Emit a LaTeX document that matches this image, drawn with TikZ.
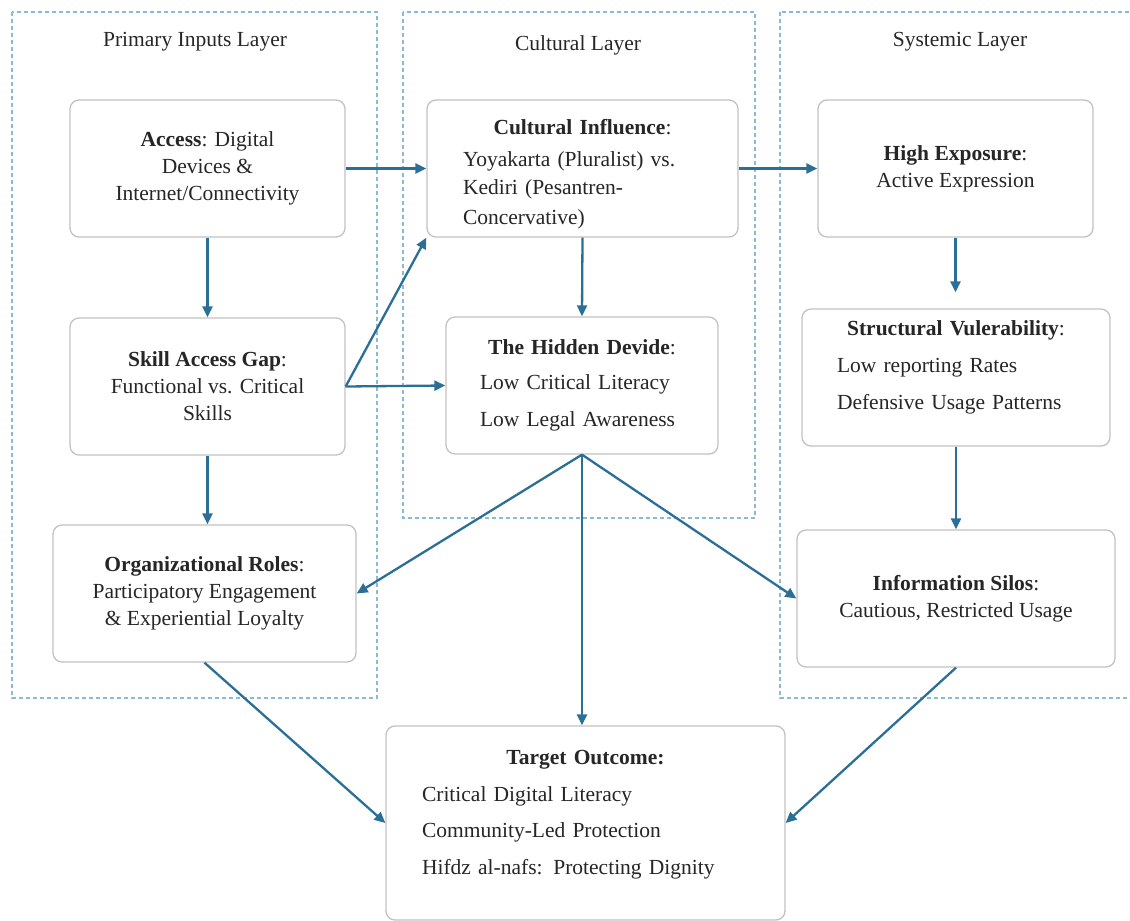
\documentclass[tikz,border=0pt]{standalone}
\usepackage{fontspec}
\setmainfont{Liberation Serif}
\usetikzlibrary{arrows.meta}

\definecolor{flowblue}{HTML}{2B6F96}
\definecolor{framebl}{HTML}{8BBAD6}
\definecolor{boxgray}{HTML}{C2C2C2}

\begin{document}
\begin{tikzpicture}[x=1pt, y=-1pt,
  box/.style={draw=boxgray, line width=1.3pt, rounded corners=9pt, fill=white,
    text=black!85, font=\fontsize{21.5}{27}\selectfont, inner sep=0pt,
    minimum height=137pt, align=center},
  listbox/.style={box, align=left, inner xsep=#1},
  flow/.style={draw=flowblue, line width=2.3pt, -{Triangle[length=11pt, width=10pt]}},
  layer/.style={draw=framebl, line width=1.3pt, dash pattern=on 4pt off 3pt},
  layertitle/.style={font=\fontsize{21.5}{24}\selectfont, text=black!85}]

  \useasboundingbox (0,0) rectangle (1130,921);

  % Layer frames
  \draw[layer] ( 12,12) rectangle ( 377,698);
  \draw[layer] (403,12) rectangle ( 755,518);
  \draw[layer] (780,12) rectangle (1140,698);

  \node[layertitle] (ttlprim) at (195,42) {Primary Inputs Layer};
  \node[layertitle] (ttlcult) at (578,45) {Cultural Layer};
  \node[layertitle] (ttlsyst) at (960,42) {Systemic Layer};

  % Primary inputs
  \node[box, minimum width=275pt] (access) at (207.5,168.5)
    {\textbf{Access}: Digital\\Devices \&\\Internet/Connectivity};
  \node[box, minimum width=275pt] (skill) at (207.5,386.5)
    {\textbf{Skill Access Gap}:\\Functional vs. Critical\\Skills};
  \node[box, minimum width=303pt] (org) at (204.5,593.5)
    {\textbf{Organizational Roles}:\\Participatory Engagement\\\& Experiential Loyalty};

  % Cultural
  \node[listbox=36pt, text width=239pt, minimum width=311pt] (cult) at (582.5,168.5)
    {{\centering\textbf{Cultural Influence}:\par}\vspace{5pt}
     Yoyakarta (Pluralist) vs.\\[1pt]Kediri (Pesantren-\\[3pt]Concervative)\par\vspace{-12pt}};
  \node[listbox=34pt, text width=204pt, minimum width=272pt] (hidden) at (582,385.5)
    {{\centering\textbf{The Hidden Devide}:\par}\vspace{8pt}
     Low Critical Literacy\\[10pt]Low Legal Awareness};

  % Systemic
  \node[box, minimum width=275pt] (high) at (955.5,168.5)
    {\textbf{High Exposure}:\\Active Expression};
  \node[listbox=35pt, text width=238pt, minimum width=308pt] (struct) at (956,377.5)
    {{\centering\textbf{Structural Vulerability}:\par}\vspace{10pt}
     Low reporting Rates\\[10pt]Defensive Usage Patterns\par\vspace{20pt}};
  \node[box, minimum width=318pt] (silos) at (956,598.5)
    {\textbf{Information Silos}:\\Cautious, Restricted Usage};

  % Outcome
  \node[listbox=36pt, text width=327pt, minimum width=399pt, minimum height=194pt] (target) at (585.5,823)
    {{\centering\textbf{Target Outcome:}\par}\vspace{10pt}
     Critical Digital Literacy\\[9pt]Community-Led Protection\\[10pt]Hifdz al-nafs: Protecting Dignity\par\vspace{17pt}};

  % Connectors
  \draw[flow] (access.east) -- (cult.west);
  \draw[flow] (access.south) -- (skill.north);
  \draw[flow] (skill.east) -- (cult.south west);
  \draw[flow] (skill.east) -- (hidden.west);
  \draw[flow] (skill.south) -- (skill.south |- org.north);
  \draw[flow] (cult.south) -- (hidden.north);
  \draw[flow] (cult.east) -- (high.west);
  \draw[flow, shorten >=16pt] (high.south) -- (high.south |- struct.north);
  \draw[flow] (struct.south) -- (struct.south |- silos.north);
  \draw[flow] (hidden.south) -- (org.east);
  \draw[flow] (hidden.south) -- (silos.west);
  \draw[flow] (hidden.south) -- (hidden.south |- target.north);
  \draw[flow] (org.south) -- (target.west);
  \draw[flow] (silos.south) -- (target.east);

\end{tikzpicture}
\end{document}
